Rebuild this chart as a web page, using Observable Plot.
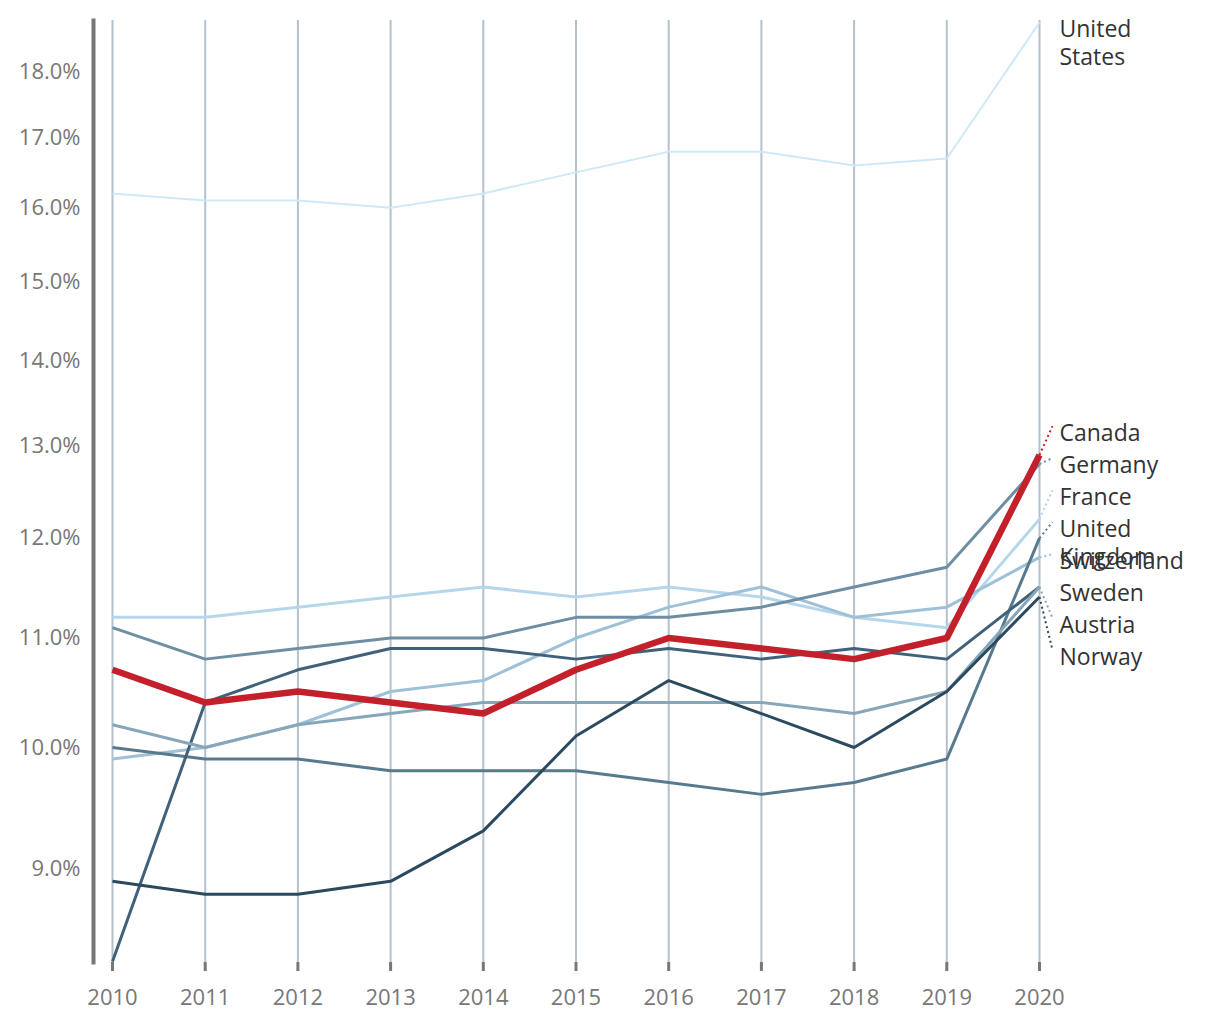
<!DOCTYPE html>
<html>
<head>
<meta charset="utf-8">
<script src="https://cdn.jsdelivr.net/npm/d3@7"></script>
<script src="https://cdn.jsdelivr.net/npm/@observablehq/plot@0.6"></script>
<style>
  html, body { margin: 0; padding: 0; background: #ffffff; }
  #chart svg { display: block; }
</style>
</head>
<body>
<div id="chart"></div>
<script>
// ---- Data ----
const years = [2010, 2011, 2012, 2013, 2014, 2015, 2016, 2017, 2018, 2019, 2020];
const countries = ["United States", "France", "Switzerland", "Germany", "United Kingdom", "Sweden", "Austria", "Norway", "Canada"];
const unitedStates  = [16.2, 16.1, 16.1, 16.0, 16.2, 16.5, 16.8, 16.8, 16.6, 16.7, 18.8];
const france        = [11.2, 11.2, 11.3, 11.4, 11.5, 11.4, 11.5, 11.4, 11.2, 11.1, 12.2];
const switzerland   = [9.9, 10.0, 10.2, 10.5, 10.6, 11.0, 11.3, 11.5, 11.2, 11.3, 11.8];
const austria       = [10.2, 10.0, 10.2, 10.3, 10.4, 10.4, 10.4, 10.4, 10.3, 10.5, 11.5];
const germany       = [11.1, 10.8, 10.9, 11.0, 11.0, 11.2, 11.2, 11.3, 11.5, 11.7, 12.8];
const unitedKingdom = [10.0, 9.9, 9.9, 9.8, 9.8, 9.8, 9.7, 9.6, 9.7, 9.9, 12.0];
const sweden        = [8.3, 10.4, 10.7, 10.9, 10.9, 10.8, 10.9, 10.8, 10.9, 10.8, 11.5];
const norway        = [8.9, 8.8, 8.8, 8.9, 9.3, 10.1, 10.6, 10.3, 10.0, 10.5, 11.4];
const canada        = [10.7, 10.4, 10.5, 10.4, 10.3, 10.7, 11.0, 10.9, 10.8, 11.0, 12.9];
const yTicks = [9, 10, 11, 12, 13, 14, 15, 16, 17, 18];
const labelText = {
  "United States": "United\nStates",
  "United Kingdom": "United\nKingdom"
};

// ---- Styles ----
const seriesValues = {
  "United States": unitedStates, "France": france, "Switzerland": switzerland,
  "Austria": austria, "Germany": germany, "United Kingdom": unitedKingdom,
  "Sweden": sweden, "Norway": norway, "Canada": canada
};
const colors = {
  "United States": "#cde9f8", "France": "#b6d6ec", "Switzerland": "#9fc1d8",
  "Austria": "#87a6ba", "Germany": "#6f8ea3", "United Kingdom": "#587a8f",
  "Sweden": "#41617a", "Norway": "#2c4a5e", "Canada": "#c4202b"
};
const widths = { "United States": 2, "Canada": 6.5 };

const W = 1220, H = 1020;
const xOpts = { domain: [2010, 2020], range: [112, 1039] };
const yOpts = { type: "log", domain: [8.3, 18.8], range: [961, 22] };
const xs = Plot.scale({ x: xOpts });
const ys = Plot.scale({ y: yOpts });

// long table
const rows = [];
for (const c of countries) {
  seriesValues[c].forEach((v, i) => rows.push({ country: c, year: years[i], value: v }));
}

// end labels with a simple dodge in pixel space
const lastYear = years[years.length - 1];
const ends = countries.map((c, k) => {
  const v = seriesValues[c][seriesValues[c].length - 1];
  return { country: c, order: k, value: v, py: ys.apply(v), text: labelText[c] || c };
});
function dodge(items, gap) {
  const sorted = items.slice().sort((a, b) => (a.py - b.py) || (a.order - b.order));
  const clusters = [];
  const start = cl => cl.sum / cl.items.length - (cl.items.length - 1) * gap / 2;
  for (const it of sorted) {
    clusters.push({ items: [it], sum: it.py });
    while (clusters.length > 1) {
      const c = clusters[clusters.length - 1], p = clusters[clusters.length - 2];
      if (start(p) + p.items.length * gap > start(c)) {
        p.items.push(...c.items); p.sum += c.sum; clusters.pop();
      } else break;
    }
  }
  for (const cl of clusters) {
    const s = start(cl);
    cl.items.forEach((it, i) => { it.ly = s + i * gap; });
  }
}
dodge(ends, 32);
const leaderX = xs.invert(xs.apply(lastYear) + 13);
ends.forEach(d => { d.labelValue = ys.invert(d.ly); d.x2 = leaderX; });

const marks = [
  Plot.gridX(years, { stroke: "#b3c1cb", strokeOpacity: 1, strokeWidth: 2 }),
  Plot.frame({ anchor: "left", stroke: "#777777", strokeWidth: 4 }),
  Plot.axisY({
    ticks: yTicks, tickFormat: d => d.toFixed(1) + "%", tickSize: 0, tickPadding: 13,
    fontSize: 22, color: "#777777", label: null
  }),
  Plot.axisX({
    ticks: years, tickFormat: d => String(d), tickSize: 9, tickPadding: 18,
    stroke: "#777777", strokeWidth: 3, fontSize: 22, color: "#777777", label: null
  })
];
for (const c of countries) {
  marks.push(Plot.line(rows.filter(r => r.country === c), {
    x: "year", y: "value", stroke: colors[c], strokeWidth: widths[c] || 3,
    strokeLinejoin: "miter", strokeLinecap: "butt"
  }));
}
marks.push(
  Plot.link(ends.filter(d => Math.abs(d.ly - d.py) > 2.5), {
    x1: () => lastYear, y1: "value", x2: "x2", y2: "labelValue",
    stroke: d => colors[d.country], strokeWidth: 2, strokeDasharray: "2,3"
  }),
  Plot.text(ends, {
    x: () => lastYear, y: "labelValue", text: "text", dx: 20, dy: -5,
    textAnchor: "start", lineAnchor: "top", lineHeight: 1.22,
    fontSize: 23, fill: "#333333"
  })
);

const chart = Plot.plot({
  width: W, height: H,
  marginLeft: 93, marginRight: 181, marginTop: 20, marginBottom: 58,
  x: xOpts, y: yOpts,
  color: { type: "identity" },
  style: { fontFamily: "'Open Sans', 'Noto Sans', sans-serif", fontSize: "22px", background: "#ffffff", overflow: "visible" },
  marks
});
document.getElementById("chart").appendChild(chart);
</script>
</body>
</html>
